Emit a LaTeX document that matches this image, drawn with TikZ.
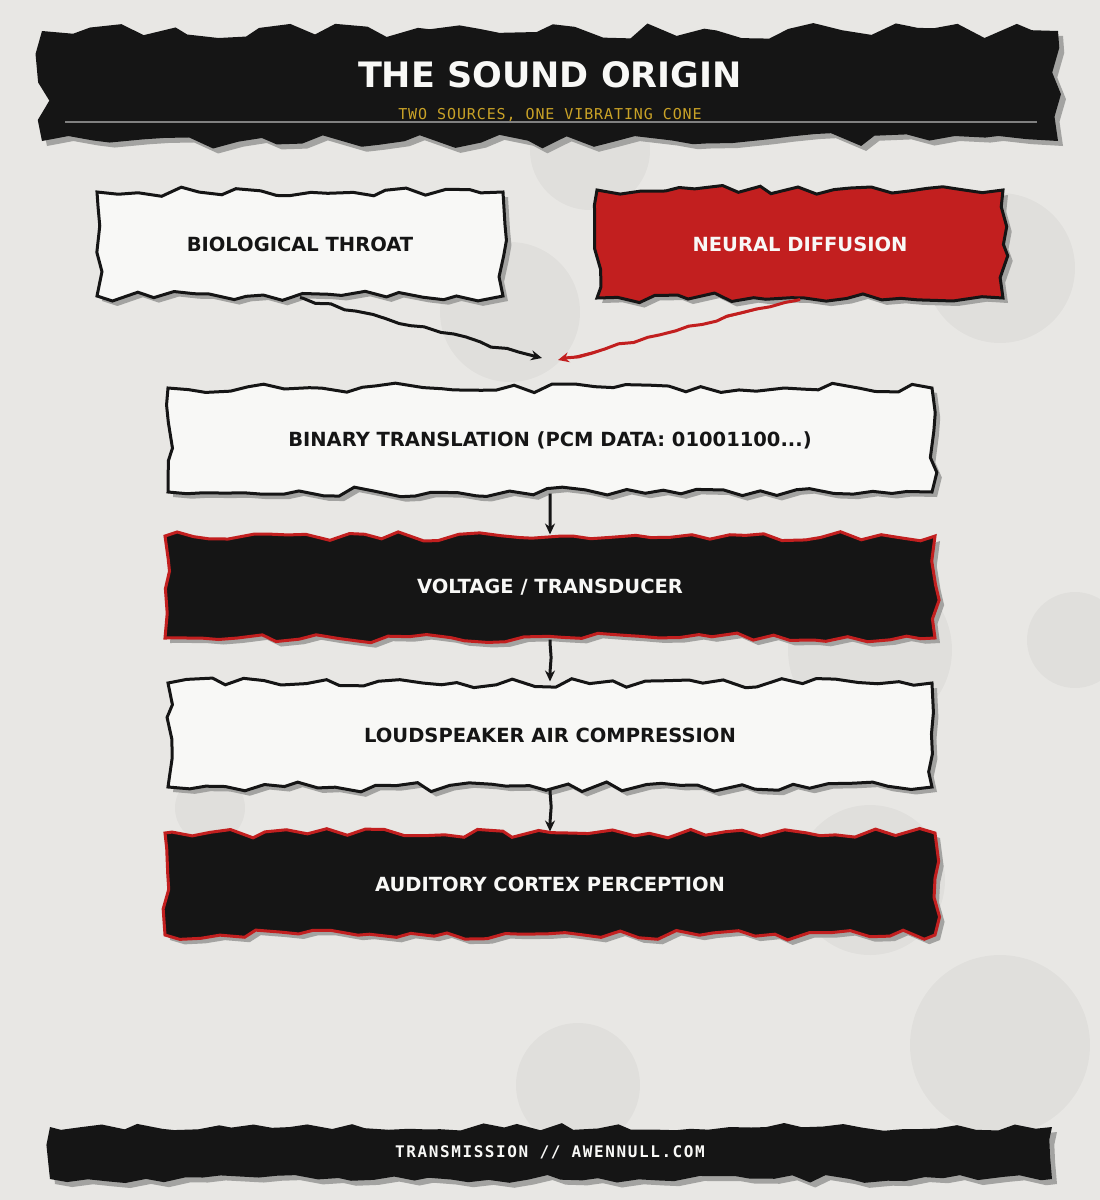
\documentclass[tikz,border=0pt]{standalone}
\usepackage{fontspec}
\setmainfont{DejaVu Sans}
\newfontfamily\monofont[LetterSpace=6]{DejaVu Sans Mono}
\newfontfamily\footfont[LetterSpace=10]{DejaVu Sans Mono}
\usetikzlibrary{decorations.pathmorphing,arrows.meta}

\definecolor{paper}{HTML}{E8E7E4}
\definecolor{ink}{HTML}{151515}
\definecolor{blood}{HTML}{C21F1F}
\definecolor{sheet}{HTML}{F8F8F6}
\definecolor{gold}{HTML}{C9A227}
\definecolor{shade}{HTML}{A3A3A1}

\tikzset{
  torn/.style={decorate,decoration={random steps,segment length=19pt,amplitude=5pt},
    preaction={fill=shade,transform canvas={shift={(5pt,-5pt)}}}},
  paperbox/.style={torn,fill=sheet,draw=ink,line width=3pt,minimum width=#1,minimum height=104pt,
    font=\bfseries\fontsize{19.5}{23}\selectfont,text=ink},
  inkbox/.style={torn,fill=ink,draw=blood,line width=3pt,minimum width=#1,minimum height=102pt,
    font=\bfseries\fontsize{19.5}{23}\selectfont,text=sheet},
  bloodbox/.style={torn,fill=blood,draw=ink,line width=3pt,minimum width=#1,minimum height=108pt,
    font=\bfseries\fontsize{19.5}{23}\selectfont,text=sheet},
  band/.style={torn,fill=ink,minimum width=#1},
  wire/.style={-{Stealth[length=11pt,width=10pt]},line width=3pt,draw=ink,decorate,
    decoration={random steps,segment length=14pt,amplitude=2pt,pre length=3pt,post length=9pt}},
  blob/.style={fill=black,opacity=0.03}
}

\begin{document}
\begin{tikzpicture}[x=1pt,y=-1pt]
\pgfmathsetseed{4242}
\useasboundingbox (0,0) rectangle (1100,1200);
\fill[paper] (0,0) rectangle (1100,1200);

\fill[blob] (1000,268) circle (75);
\fill[blob] (510,312) circle (70);
\fill[blob] (590,150) circle (60);
\fill[blob] (870,650) circle (82);
\fill[blob] (1075,640) circle (48);
\fill[blob] (210,808) circle (35);
\fill[blob] (870,880) circle (75);
\fill[blob] (1000,1045) circle (90);
\fill[blob] (578,1085) circle (62);

\node[band=1016pt,minimum height=110pt,decoration={amplitude=8pt,segment length=24pt}] (header) at (550,86) {};
\node[font=\bfseries\fontsize{35}{40}\selectfont,text=sheet] (title) at (550,75) {THE SOUND ORIGIN};
\node[font=\monofont\fontsize{15}{18}\selectfont,text=gold] (subtitle) at (550,115) {TWO SOURCES, ONE VIBRATING CONE};
\draw[black!50,line width=2pt] (65,122) -- (1037,122);

\node[paperbox=406pt] (throat) at (300,244) {BIOLOGICAL THROAT};
\node[bloodbox=406pt] (neural) at (800,244) {NEURAL DIFFUSION};

\coordinate (inleft) at (542,358);
\coordinate (inright) at (558,360);
\draw[wire] (throat.south) -- (inleft);
\draw[wire,draw=blood,fill=blood] (neural.south) -- (inright);

\node[paperbox=764pt] (binary) at (550,440) {BINARY TRANSLATION (PCM DATA: 01001100...)};
\node[inkbox=770pt] (voltage) at (550,587) {VOLTAGE / TRANSDUCER};
\node[paperbox=764pt] (speaker) at (550,735) {LOUDSPEAKER AIR COMPRESSION};
\node[inkbox=770pt] (cortex) at (550,884) {AUDITORY CORTEX PERCEPTION};

\draw[wire] (binary) -- (voltage);
\draw[wire] (voltage) -- (speaker);
\draw[wire] (speaker) -- (cortex);

\node[band=1002pt,minimum height=52pt,decoration={amplitude=4pt}] (footer) at (551,1153) {};
\node[font=\footfont\bfseries\fontsize{16}{19}\selectfont,text=sheet] (credit) at (550,1152) {TRANSMISSION // AWENNULL.COM};
\end{tikzpicture}
\end{document}
